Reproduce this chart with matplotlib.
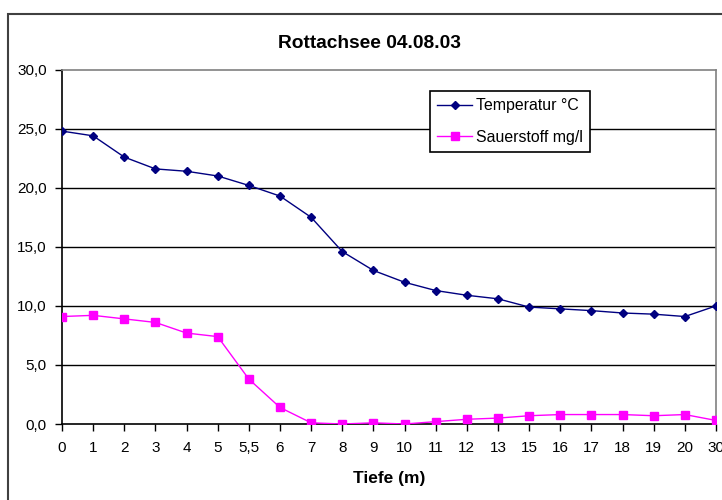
import matplotlib
matplotlib.use("Agg")
import matplotlib.pyplot as plt
from matplotlib.patches import Rectangle

plt.rcParams['font.family'] = ['Liberation Sans', 'DejaVu Sans']

depth_labels = ["0", "1", "2", "3", "4", "5", "5,5", "6", "7", "8", "9", "10",
                "11", "12", "13", "15", "16", "17", "18", "19", "20", "30"]
temperature = [24.8, 24.4, 22.6, 21.6, 21.4, 21.0, 20.2, 19.3, 17.5, 14.6, 13.0,
               12.0, 11.3, 10.9, 10.6, 9.9, 9.75, 9.6, 9.4, 9.3, 9.1, 10.0]
oxygen = [9.1, 9.2, 8.9, 8.6, 7.7, 7.4, 3.8, 1.4, 0.1, 0.0, 0.1, 0.0, 0.2, 0.4,
          0.5, 0.7, 0.8, 0.8, 0.8, 0.7, 0.8, 0.3]
y_ticks = [0, 5, 10, 15, 20, 25, 30]
y_tick_labels = ["0,0", "5,0", "10,0", "15,0", "20,0", "25,0", "30,0"]

W, H = 722, 500
fig = plt.figure(figsize=(W / 100, H / 100), dpi=100)
ax = fig.add_axes([62 / W, 1 - 424 / H, (716 - 62) / W, (424 - 69.7) / H])

x = list(range(len(depth_labels)))
ax.plot(x, temperature, color='#000080', lw=1, marker='D', ms=4.5,
        label='Temperatur °C', zorder=4)
ax.plot(x, oxygen, color='#FF00FF', lw=1, marker='s', ms=5.5,
        label='Sauerstoff mg/l', zorder=4)

ax.set_xlim(0, len(depth_labels) - 1)
ax.set_ylim(0, 30)
ax.set_xticks(x)
ax.set_xticklabels(depth_labels, fontsize=11)
ax.set_yticks(y_ticks)
ax.set_yticklabels(y_tick_labels, fontsize=11)
ax.tick_params(axis='y', direction='out', length=5, width=1, color='black', pad=6)
ax.tick_params(axis='x', direction='out', length=5, width=1, color='black', pad=7)
for yv in y_ticks[1:-1]:
    ax.axhline(yv, color='black', lw=1, zorder=1)

for s in ['top', 'right']:
    ax.spines[s].set_color('#808080')
    ax.spines[s].set_linewidth(1.2)
for s in ['left', 'bottom']:
    ax.spines[s].set_color('black')
    ax.spines[s].set_linewidth(1.2)

ax.set_xlabel('Tiefe (m)', fontsize=12.5, fontweight='bold', labelpad=12)

leg = ax.legend(loc='upper left', bbox_to_anchor=((430 - 62) / (716 - 62), 1 - (91 - 69.7) / (424 - 69.7)),
                frameon=True, fancybox=False, edgecolor='black', framealpha=1,
                fontsize=11.4, handlelength=2.2, borderpad=0.45, labelspacing=1.05,
                handletextpad=0.25, borderaxespad=0)
leg.get_frame().set_linewidth(1.2)

fig.text(369 / W, 1 - 43 / H, 'Rottachsee 04.08.03', ha='center', va='center',
         fontsize=13.8, fontweight='bold')

fig.patches.append(Rectangle((8 / W, -0.1), 1.2, 1.1 - 14 / H, transform=fig.transFigure,
                             fill=False, edgecolor='#404040', lw=1.5))

fig.savefig('out.png', dpi=100)
